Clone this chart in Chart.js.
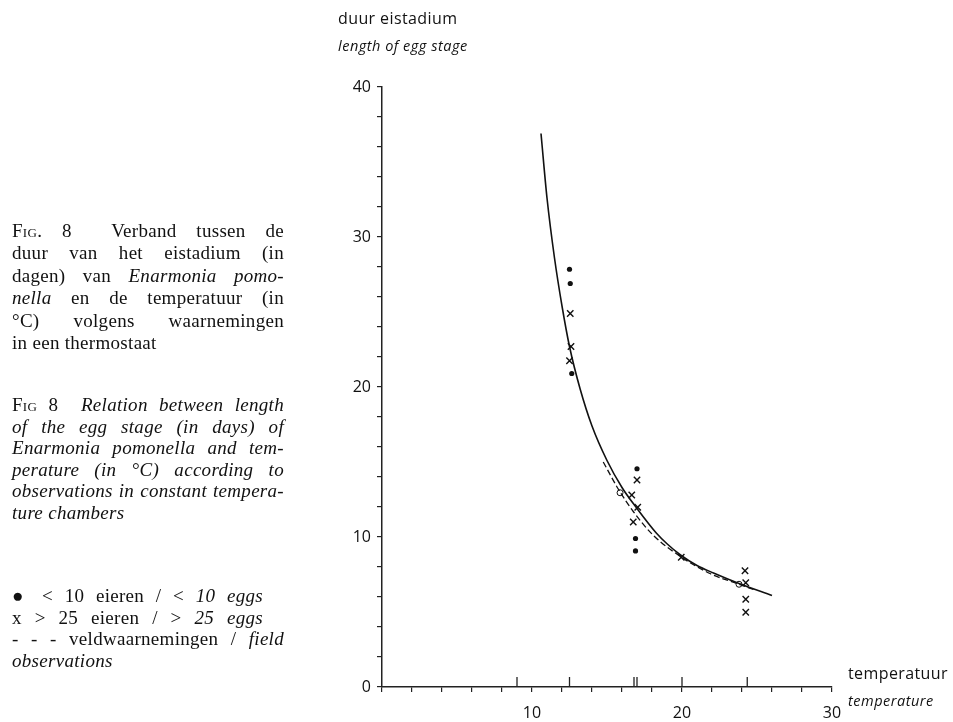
<!DOCTYPE html>
<html lang="nl">
<head>
<meta charset="UTF-8">
<title>Fig. 8 duur eistadium</title>
<script src="https://cdn.jsdelivr.net/npm/chart.js"></script>
<style>
    body { margin: 0; background: #fff; width: 953px; height: 722px; position: relative; overflow: hidden; }
    #chart { position: absolute; left: 0; top: 0; }
    .lbl { position: absolute; font-family: "Open Sans", sans-serif; font-size: 16px; letter-spacing: 0.4px; color: #111; white-space: nowrap; line-height: 20px; }
    .it { font-style: italic; font-size: 14.5px; letter-spacing: 0.5px; }
    .cap { position: absolute; left: 12px; width: 272px; font-family: "Liberation Serif", serif; font-size: 19px; letter-spacing: 0.3px; color: #111; }
    .cap div { white-space: nowrap; }
    .cap .j { text-align: justify; text-align-last: justify; white-space: normal; }
    .cap .short { width: 251px; }
    .sc { font-variant: small-caps; }
    i { font-style: italic; }
</style>
</head>
<body>
<canvas id="chart" width="953" height="722"></canvas>

<div class="lbl" style="left:338px; top:8px;">duur eistadium</div>
<div class="lbl it" style="left:338px; top:36px;">length of egg stage</div>
<div class="lbl" style="left:848px; top:663px;">temperatuur</div>
<div class="lbl it" style="left:848px; top:691px;">temperature</div>

<div class="cap" style="top:220px; line-height:22.4px;">
    <div class="j"><span class="sc">Fig</span>. 8&nbsp; Verband tussen de</div>
    <div class="j">duur van het eistadium (in</div>
    <div class="j">dagen) van <i>Enarmonia pomo-</i></div>
    <div class="j"><i>nella</i> en de temperatuur (in</div>
    <div class="j">°C) volgens waarnemingen</div>
    <div>in een thermostaat</div>
</div>
<div class="cap" style="top:394px; line-height:21.5px; font-style:italic;">
    <div class="j"><span class="sc" style="font-style:normal">Fig</span><span style="font-style:normal"> 8</span>&nbsp; Relation between length</div>
    <div class="j">of the egg stage (in days) of</div>
    <div class="j">Enarmonia pomonella and tem-</div>
    <div class="j">perature (in °C) according to</div>
    <div class="j">observations in constant tempera-</div>
    <div>ture chambers</div>
</div>
<div class="cap" style="top:585px; line-height:21.7px;">
    <div class="j short">● &lt; 10 eieren / &lt; <i>10 eggs</i></div>
    <div class="j short">x &gt; 25 eieren / &gt; <i>25 eggs</i></div>
    <div class="j">- - - veldwaarnemingen / <i>field</i></div>
    <div><i>observations</i></div>
</div>

<script>
    // fitted curve (solid)
    const curveT = [10.6, 11.0, 11.5, 12.0, 12.5, 13.2, 14.0, 15.0, 16.0, 17.0, 18.3, 19.0, 19.9, 21.0, 22.1, 23.8, 26.0];
    const curveD = [36.9, 32.6, 28.6, 25.4, 22.7, 19.9, 17.4, 15.1, 13.3, 11.9, 10.25, 9.55, 8.8, 8.1, 7.6, 6.9, 6.1];

    // field observations curve (dashed)
    const fieldT = [14.75, 15.75, 16.75, 18.1, 19.9, 21.9, 23.65, 24.9];
    const fieldD = [15.0, 13.2, 11.7, 10.1, 8.7, 7.55, 6.9, 6.45];

    // < 10 eggs (dots)
    const fewT = [12.5, 12.55, 12.65, 17.0, 16.9, 16.9];
    const fewD = [27.85, 26.9, 20.9, 14.55, 9.9, 9.07];

    // > 25 eggs (crosses)
    const manyT = [12.55, 12.6, 12.5, 17.0, 16.65, 17.05, 16.75, 19.95, 24.2, 24.25, 24.25, 24.25];
    const manyD = [24.9, 22.7, 21.75, 13.8, 12.8, 11.98, 11.0, 8.65, 7.75, 6.95, 5.85, 4.98];

    // open circles
    const openT = [15.87, 23.8];
    const openD = [12.95, 6.85];

    // temperatures marked on the x axis
    const markT = [9, 12.5, 16.8, 17.0, 20, 24.35];

    const xTicks = [10, 20, 30];
    const yTicks = [0, 10, 20, 30, 40];

    function pts(xs, ys) {
        return xs.map((x, i) => ({ x: x, y: ys[i] }));
    }

    const axisMarks = {
        id: 'axisMarks',
        afterDatasetsDraw(chart) {
            const ctx = chart.ctx;
            const x = chart.scales.x, y = chart.scales.y;
            const y0 = y.getPixelForValue(0);
            ctx.save();
            ctx.strokeStyle = '#222';
            ctx.lineWidth = 1.3;
            markT.forEach(t => {
                const px = x.getPixelForValue(t);
                ctx.beginPath();
                ctx.moveTo(px, y0);
                ctx.lineTo(px, y0 - 10);
                ctx.stroke();
            });
            ctx.restore();
        }
    };

    const tickFont = { family: 'Open Sans', size: 16 };

    new Chart(document.getElementById('chart'), {
        type: 'scatter',
        data: {
            datasets: [
                {
                    data: pts(curveT, curveD),
                    showLine: true,
                    borderColor: '#111',
                    borderWidth: 1.6,
                    pointRadius: 0,
                    cubicInterpolationMode: 'monotone'
                },
                {
                    data: pts(fieldT, fieldD),
                    showLine: true,
                    borderColor: '#111',
                    borderWidth: 1.3,
                    borderDash: [6, 3],
                    pointRadius: 0,
                    cubicInterpolationMode: 'monotone'
                },
                {
                    data: pts(fewT, fewD),
                    pointStyle: 'circle',
                    pointRadius: 2.6,
                    backgroundColor: '#111',
                    borderColor: '#111',
                    borderWidth: 0
                },
                {
                    data: pts(manyT, manyD),
                    pointStyle: 'crossRot',
                    pointRadius: 4.5,
                    borderColor: '#111',
                    borderWidth: 1.4
                },
                {
                    data: pts(openT, openD),
                    pointStyle: 'circle',
                    pointRadius: 3,
                    backgroundColor: '#fff',
                    borderColor: '#111',
                    borderWidth: 1
                }
            ]
        },
        options: {
            responsive: false,
            animation: false,
            layout: { padding: { left: 0, top: 87, right: 121, bottom: 0 } },
            plugins: { legend: { display: false }, tooltip: { enabled: false } },
            scales: {
                x: {
                    type: 'linear',
                    min: 0, max: 30,
                    afterFit: s => { s.height = 35; },
                    ticks: {
                        stepSize: 2,
                        autoSkip: false,
                        maxRotation: 0,
                        padding: 12,
                        color: '#111',
                        font: tickFont,
                        callback: v => xTicks.includes(v) ? v : ''
                    },
                    grid: { drawOnChartArea: false, drawTicks: true, tickLength: 5, color: '#222', lineWidth: 1.2 },
                    border: { display: true, color: '#222', width: 1.5 }
                },
                y: {
                    min: 0, max: 40,
                    afterFit: s => { s.width = 382; },
                    ticks: {
                        stepSize: 2,
                        autoSkip: false,
                        padding: 6,
                        color: '#111',
                        font: tickFont,
                        callback: v => yTicks.includes(v) ? v : ''
                    },
                    grid: { drawOnChartArea: false, drawTicks: true, tickLength: 5, color: '#222', lineWidth: 1.2 },
                    border: { display: true, color: '#222', width: 1.5 }
                }
            }
        },
        plugins: [axisMarks]
    });
</script>
</body>
</html>
